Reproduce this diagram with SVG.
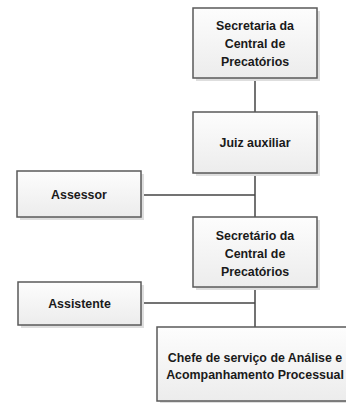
<svg xmlns="http://www.w3.org/2000/svg" width="346" height="403" viewBox="0 0 346 403">
<defs>
<linearGradient id="fillg" x1="0" y1="0" x2="0" y2="1">
<stop offset="0" stop-color="#fdfdfd"/>
<stop offset="1" stop-color="#ececec"/>
</linearGradient>
</defs>
<style>
.box{fill:url(#fillg);stroke:#5a5a5a;stroke-width:1.5}
.shadow{fill:#dedede}
.lbl{font-family:"Liberation Sans",Arial,sans-serif;font-weight:bold;font-size:12.4px;fill:#1a1a1a;text-anchor:middle}
.conn{stroke:#444;stroke-width:1.5;fill:none}
</style>
<rect width="346" height="403" fill="#ffffff"/>
<g id="connectors">
<line class="conn" x1="255" y1="78" x2="255" y2="327"/>
<line class="conn" x1="141" y1="195" x2="255" y2="195"/>
<line class="conn" x1="141" y1="303" x2="255" y2="303"/>
</g>
<g id="secretaria">
<rect class="shadow" x="196" y="11" width="124" height="70"/>
<rect class="box" x="193" y="8" width="124" height="70"/>
<text class="lbl" x="255" y="29.5">Secretaria da</text>
<text class="lbl" x="255" y="47.5">Central de</text>
<text class="lbl" x="255" y="66">Precatórios</text>
</g>
<g id="juiz">
<rect class="shadow" x="196" y="115" width="124" height="61"/>
<rect class="box" x="193" y="112" width="124" height="61"/>
<text class="lbl" x="255" y="147">Juiz auxiliar</text>
</g>
<g id="assessor">
<rect class="shadow" x="20" y="174" width="124" height="46"/>
<rect class="box" x="17" y="171" width="124" height="46"/>
<text class="lbl" x="79" y="199">Assessor</text>
</g>
<g id="secretario">
<rect class="shadow" x="196" y="220" width="124" height="70"/>
<rect class="box" x="193" y="217" width="124" height="70"/>
<text class="lbl" x="255" y="239.5">Secretário da</text>
<text class="lbl" x="255" y="257.5">Central de</text>
<text class="lbl" x="255" y="276">Precatórios</text>
</g>
<g id="assistente">
<rect class="shadow" x="21" y="285" width="123" height="43"/>
<rect class="box" x="18" y="282" width="123" height="43"/>
<text class="lbl" x="79.5" y="308">Assistente</text>
</g>
<g id="chefe">
<rect class="shadow" x="160" y="330" width="196" height="74"/>
<rect class="box" x="157" y="327" width="196" height="74"/>
<text class="lbl" x="255" y="361.5">Chefe de serviço de Análise e</text>
<text class="lbl" x="255" y="378.5">Acompanhamento Processual</text>
</g>
</svg>
